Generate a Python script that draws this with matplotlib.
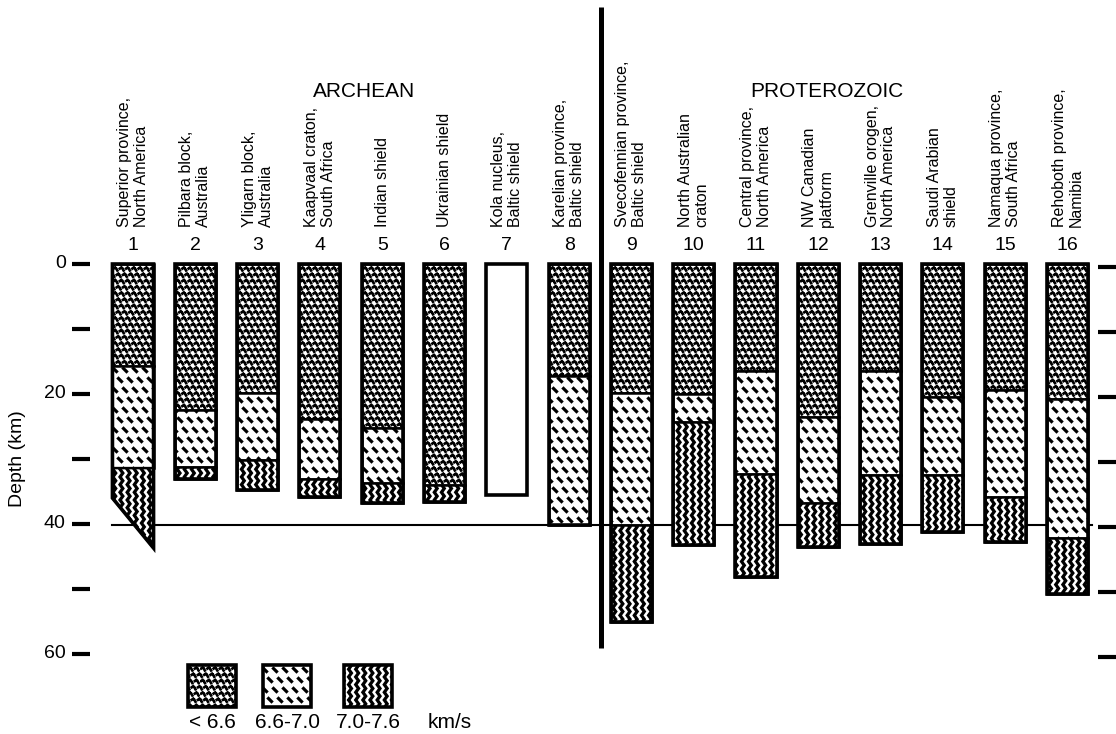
import warnings
import numpy as np
import matplotlib
matplotlib.use('Agg')
import matplotlib.pyplot as plt
import matplotlib.hatch as mhatch
from matplotlib.path import Path
from matplotlib.patches import Polygon, Rectangle

warnings.filterwarnings('ignore')  # custom hatch letters trigger a deprecation note

# ---- data ----------------------------------------------------------------
sites = ['Superior province,\nNorth America', 'Pilbara block,\nAustralia',
         'Yligarn block,\nAustralia', 'Kaapvaal craton,\nSouth Africa',
         'Indian shield', 'Ukrainian shield', 'Kola nucleus,\nBaltic shield',
         'Karelian province,\nBaltic shield',
         'Svecofennian province,\nBaltic shield', 'North Australian\ncraton',
         'Central province,\nNorth America', 'NW Canadian\nplatform',
         'Grenville orogen,\nNorth America', 'Saudi Arabian\nshield',
         'Namaqua province,\nSouth Africa', 'Rehoboth province,\nNamibia']
# depth (km) of the base of each velocity layer, None = no data (Kola)
base_slow = [15.7, 22.5, 19.9, 23.9, 25.3, 34.0, None, 17.3,
             19.9, 20.0, 16.4, 23.5, 16.4, 20.4, 19.4, 20.8]   # < 6.6 km/s
base_mid = [31.4, 31.2, 30.1, 33.1, 33.7, 34.0, None, 40.2,
            40.2, 24.3, 32.3, 36.8, 32.5, 32.5, 35.8, 42.1]    # 6.6-7.0 km/s
moho = [43.7, 33.0, 34.7, 35.8, 36.8, 36.6, 35.5, 40.2,
        55.1, 43.2, 48.1, 43.5, 43.1, 41.3, 42.7, 50.7]        # 7.0-7.6 km/s
superior_base_west = 36.0   # column 1 has a sloping base
depth_ticks = [0, 10, 20, 30, 40, 50, 60]
depth_labels = ['0', '', '20', '', '40', '', '60']
legend_labels = ['< 6.6', '6.6-7.0', '7.0-7.6']
hatches = ['f', 'd', 'w']


# ---- custom hatches: flecks, dashes and vertical waves --------------------
def bar_shape(parts):
    verts, codes = [], []
    for cx, cy, hl, hw, ang in parts:
        c, s = np.cos(ang), np.sin(ang)
        pts = [(-hl, -hw), (hl, -hw), (hl, hw), (-hl, hw), (-hl, -hw)]
        for k, (u, v) in enumerate(pts):
            verts.append((cx + u * c - v * s, cy + u * s + v * c))
            codes.append(Path.MOVETO if k == 0 else
                         (Path.CLOSEPOLY if k == 4 else Path.LINETO))
    return np.array(verts), np.array(codes, dtype=Path.code_type)


class Marks(mhatch.Shapes):
    filled = True
    size = 1.0
    char = 'd'
    rows_per_char = 10   # must be even for the Shapes bookkeeping

    def __init__(self, hatch, density):
        self.num_rows = int(hatch.count(self.char) * self.rows_per_char)
        super().__init__(hatch, density)


class DashHatch(Marks):
    char = 'd'
    rows_per_char = 10
    shape_vertices, shape_codes = bar_shape([(0, 0, 0.28, 0.07, -np.pi / 4)])


class FleckHatch(Marks):
    char = 'f'
    rows_per_char = 16
    shape_vertices, shape_codes = bar_shape([(-0.2, 0.12, 0.22, 0.07, np.pi / 5),
                                             (0.2, -0.15, 0.22, 0.07, -np.pi / 3)])


class WaveHatch(mhatch.HatchPatternBase):
    # filled vertical zigzag bands
    def __init__(self, hatch, density):
        self.num_lines = hatch.count('w') * 14
        self.num_zigs = 26
        self.per_band = 2 * (self.num_zigs + 1) + 1
        self.num_vertices = (self.num_lines + 1) * self.per_band if self.num_lines else 0

    def set_vertices_and_codes(self, vertices, codes):
        ys = np.linspace(0, 1, self.num_zigs + 1)
        dx = np.where(np.arange(self.num_zigs + 1) % 2 == 0, -0.014, 0.014)
        hw = 0.009
        k = 0
        for col in np.linspace(0, 1, self.num_lines + 1):
            left = np.column_stack([col - hw + dx, ys])
            right = np.column_stack([col + hw + dx, ys])[::-1]
            band = np.vstack([left, right, left[:1]])
            n = len(band)
            vertices[k:k + n] = band
            codes[k] = Path.MOVETO
            codes[k + 1:k + n - 1] = Path.LINETO
            codes[k + n - 1] = Path.CLOSEPOLY
            k += n


mhatch._hatch_types.extend([DashHatch, FleckHatch, WaveHatch])

plt.rcParams['font.family'] = ['Liberation Sans', 'DejaVu Sans']
plt.rcParams['hatch.linewidth'] = 1.3
plt.rcParams['hatch.color'] = 'black'

# ---- figure: one axes over the whole canvas, x = column no., y = depth ----
px_per_col = 62.3
px_per_km = 6.5
fig = plt.figure(figsize=(11.16, 7.34), dpi=100)
ax = fig.add_axes([0, 0, 1, 1])
x0 = 1 - 133 / px_per_col
ax.set_xlim(x0, x0 + 1116 / px_per_col)
ax.set_ylim((734 - 264) / px_per_km, -264 / px_per_km)
ax.axis('off')

half = 0.33
ncol = len(sites)
cols = np.arange(1, ncol + 1)

# 40 km reference line and the Archean/Proterozoic divider
ax.plot([0.66, 16.39], [40.2, 40.2], color='black', lw=1.5, zorder=1)
ax.plot([8.51, 8.51], [-39.5, 59.0], color='black', lw=3.6,
        solid_capstyle='butt', zorder=1)

for i, c in enumerate(cols):
    xl, xr = c - half, c + half
    west = superior_base_west if i == 0 else moho[i]
    if base_slow[i] is not None:
        tops = [0, base_slow[i], base_mid[i]]
        bots = [base_slow[i], base_mid[i], moho[i]]
        for k in range(3):
            if bots[k] - tops[k] <= 0:
                continue
            bl = west if k == 2 else bots[k]
            ax.add_patch(Polygon([(xl, tops[k]), (xr, tops[k]), (xr, bots[k]), (xl, bl)],
                                 closed=True, facecolor='white', edgecolor='black',
                                 lw=1.8, hatch=hatches[k], zorder=2))
    ax.add_patch(Polygon([(xl, 0), (xr, 0), (xr, moho[i]), (xl, west)], closed=True,
                         fill=False, edgecolor='black', lw=2.6,
                         joinstyle='miter', zorder=3))
    ax.text(c, -2.9, str(c), ha='center', va='center', fontsize=14)
    ax.text(c, -5.7, sites[i], rotation=90, ha='center', va='bottom',
            multialignment='left', fontsize=11.5, linespacing=1.15)

ax.text(4.71, -26.5, 'ARCHEAN', ha='center', va='center', fontsize=15)
ax.text(12.14, -26.5, 'PROTEROZOIC', ha='center', va='center', fontsize=15)

# depth scale, left with labels, right without
for d, lab in zip(depth_ticks, depth_labels):
    ax.plot([0.02, 0.31], [d, d], color='black', lw=3, solid_capstyle='butt')
    ax.plot([16.49, 16.8], [d + 0.5, d + 0.5], color='black', lw=3,
            solid_capstyle='butt')
    if lab:
        ax.text(-0.08, d, lab, ha='right', va='center', fontsize=14)
ax.text(-0.85, 30, 'Depth (km)', rotation=90, ha='center', va='center',
        fontsize=14)

# legend
box_x = [1.883, 3.087, 4.387]
for bx, lab, h in zip(box_x, legend_labels, hatches):
    ax.add_patch(Rectangle((bx, 61.7), 0.77, 6.5, facecolor='white',
                           edgecolor='black', lw=2.6, hatch=h))
    ax.text(bx + 0.385, 70.6, lab, ha='center', va='center', fontsize=15)
ax.text(6.09, 70.6, 'km/s', ha='center', va='center', fontsize=15)

fig.savefig('out.png', dpi=100)
